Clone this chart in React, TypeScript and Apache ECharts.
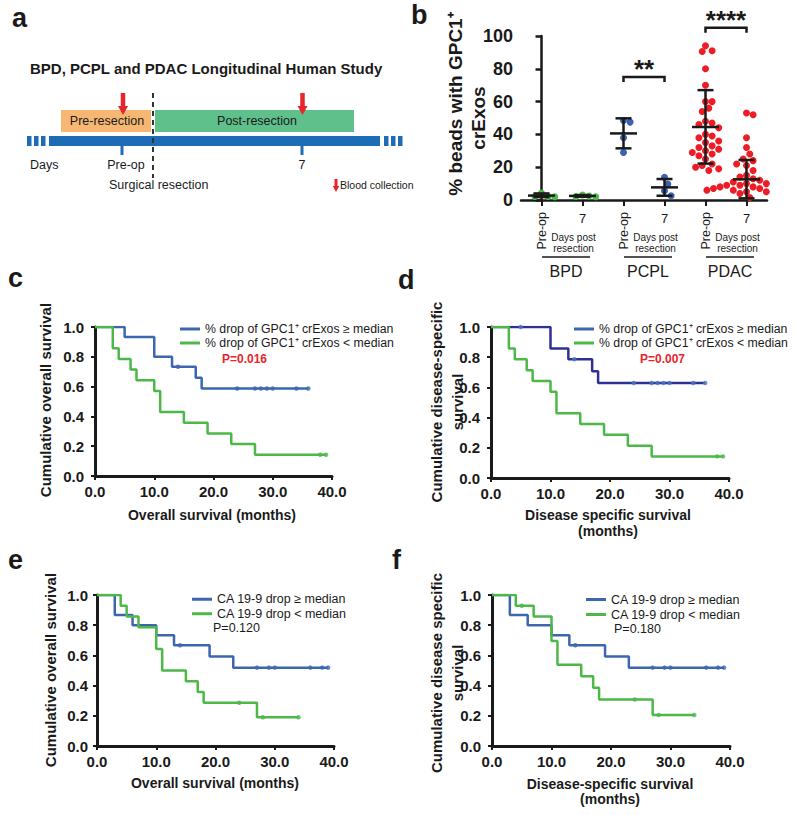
import React, { useEffect, useRef } from 'react';
import * as echarts from 'echarts';

const FONT = '"Liberation Sans", Arial, Helvetica, sans-serif';
const INK = '#1a1a1a';
const BLUE = '#3d66b0';
const NAVY = '#2e3192';
const GREEN = '#4cb848';
const RED = '#e8252b';

// ---------- Panel a ----------
const aTitle = 'BPD, PCPL and PDAC Longitudinal Human Study';
const aPhases = ['Pre-resection', 'Post-resection'];
const aTimeLabels = ['Days', 'Pre-op', '7'];
const aNotes = ['Surgical resection', 'Blood collection'];

// ---------- Panel b ----------
const bTickPre = ['Pre-op', '', 'Pre-op', '', 'Pre-op', ''];
const bTickPost = ['', '7', '', '7', '', '7'];
const bGroups = ['BPD', 'PCPL', 'PDAC'];
const bSubLabel = ['Days post', 'resection'];
const bYTitle = ['% beads with GPC1\u207A', 'crExos'];
const bpdPre = [2.0, 2.1, 2.2, 4.3];
const bpdPost = [2.0, 2.1, 2.4, 3.1];
const pcplPre = [48.5, 47.5, 38, 29];
const pcplPost = [13.8, 9.8, 5.7, 2.6];
const pdacPre = [94, 91, 90.5, 80, 70, 60, 60, 56, 54, 48, 47, 46, 44, 40, 39, 38, 36, 35, 33, 32, 31, 30, 29, 28, 27, 25, 22, 21, 20, 19, 18];
const pdacPost = [53, 52, 38, 32, 28, 25, 24, 22, 21, 18, 15, 14, 13, 12, 11, 10, 10, 9, 9, 8, 8, 8, 7, 7, 7, 6, 6, 6, 5, 5, 4, 1.5];
const bMeans = [2.7, 2.5, 40.6, 7.7, 44.5, 12.6];
const bLower = [1.8, 2.0, 31.5, 2.6, 22.2, 1.0];
const bUpper = [4.0, 3.0, 49.8, 12.8, 67.0, 24.4];
const sigFrom = [2, 4];
const sigTo = [3, 5];
const sigLevel = [75, 105];
const sigLabels = ['**', '****'];

// ---------- Panels c-f ----------
const GPC_HI = '% drop of GPC1\u207A crExos \u2265 median';
const GPC_LO = '% drop of GPC1\u207A crExos < median';
const CA_HI = 'CA 19-9 drop \u2265 median';
const CA_LO = 'CA 19-9 drop < median';
const pValues = ['P=0.016', 'P=0.007', 'P=0.120', 'P=0.180'];

const cBlueT = [0, 5, 10, 13, 17, 18, 36];
const cBlueS = [1, 0.933, 0.8, 0.733, 0.66, 0.587, 0.587];
const cBlueCens = [14, 24, 27, 28, 29, 30, 34, 36];
const cGreenT = [0, 3, 4, 6, 7, 10, 11, 15, 19, 23, 27, 39];
const cGreenS = [1, 0.857, 0.786, 0.714, 0.643, 0.571, 0.429, 0.357, 0.286, 0.214, 0.143, 0.143];
const cGreenCens = [38, 39];

const dBlueT = [0, 10, 13, 17, 18, 36];
const dBlueS = [1, 0.857, 0.786, 0.707, 0.629, 0.629];
const dBlueCens = [5, 14, 24, 27, 28, 29, 30, 34, 36];
const dGreenT = [0, 3, 4, 6, 7, 10, 11, 15, 19, 23, 27, 39];
const dGreenS = [1, 0.857, 0.786, 0.714, 0.643, 0.571, 0.429, 0.357, 0.286, 0.214, 0.143, 0.143];
const dGreenCens = [38, 39];

const eBlueT = [0, 3, 6, 10, 13, 19, 23, 39];
const eBlueS = [1, 0.867, 0.8, 0.733, 0.667, 0.593, 0.519, 0.519];
const eBlueCens = [14, 27, 29, 30, 36, 38, 39];
const eGreenT = [0, 4, 5, 7, 10, 11, 15, 17, 18, 27, 34];
const eGreenS = [1, 0.929, 0.857, 0.786, 0.643, 0.5, 0.429, 0.357, 0.286, 0.19, 0.19];
const eGreenCens = [24, 28, 34];

const fBlueT = [0, 3, 6, 10, 13, 19, 23, 39];
const fBlueS = [1, 0.867, 0.8, 0.733, 0.667, 0.593, 0.519, 0.519];
const fBlueCens = [14, 27, 29, 30, 36, 38, 39];
const fGreenT = [0, 4, 7, 10, 11, 15, 17, 18, 27, 34];
const fGreenS = [1, 0.929, 0.857, 0.696, 0.538, 0.462, 0.385, 0.308, 0.205, 0.205];
const fGreenCens = [5, 24, 28, 34];

// ---------- layout ----------
const GB = { left: 521, top: 36, width: 246, height: 164 };
const GC = { left: 95, top: 327, width: 237, height: 149 };
const GD = { left: 491, top: 327, width: 238, height: 151 };
const GE = { left: 97, top: 595, width: 237, height: 151 };
const GF = { left: 492, top: 595, width: 238, height: 151 };

const beeswarm = (vals: number[], idx: number) => {
  const pxX = GB.width / 6;
  const pxY = GB.height / 100;
  const d = 6.6;
  const step = 3.3;
  const placed: { x: number; y: number }[] = [];
  const sorted = [...vals].sort((a, b) => b - a);
  return sorted.map((v) => {
    const y = v * pxY;
    let off = 0;
    for (let k = 0; k < 60; k++) {
      const cand = k === 0 ? 0 : (k % 2 ? 1 : -1) * Math.ceil(k / 2) * step;
      if (placed.every((p) => Math.hypot(p.x - cand, p.y - y) >= d)) {
        off = cand;
        break;
      }
    }
    placed.push({ x: off, y });
    return [idx + off / pxX, v];
  });
};

const stepData = (t: number[], s: number[]) => t.map((x, i) => [x, s[i]]);
const censData = (c: number[], t: number[], s: number[]) =>
  c.map((x) => {
    let k = 0;
    for (let i = 0; i < t.length; i++) if (t[i] <= x) k = i;
    return [x, s[k]];
  });

const kmAxisX = (gridIndex: number) => ({
  type: 'value',
  gridIndex,
  min: 0,
  max: 40,
  interval: 10,
  position: 'bottom',
  axisLine: { show: true, onZero: false, lineStyle: { color: INK, width: 3 } },
  axisTick: { show: true, length: 4, lineStyle: { color: INK, width: 2 } },
  axisLabel: { formatter: (v: number) => v.toFixed(1), fontSize: 15, fontWeight: 'bold', color: INK, fontFamily: FONT, margin: 8 },
  splitLine: { show: false },
});
const kmAxisY = (gridIndex: number, margin: number) => ({
  type: 'value',
  gridIndex,
  min: 0,
  max: 1,
  interval: 0.2,
  axisLine: { show: true, lineStyle: { color: INK, width: 3 } },
  axisTick: { show: true, length: 4, lineStyle: { color: INK, width: 2 } },
  axisLabel: { formatter: (v: number) => v.toFixed(1), fontSize: 15, fontWeight: 'bold', color: INK, fontFamily: FONT, margin },
  splitLine: { show: false },
});

const kmSeries = (
  axis: number,
  name: string,
  t: number[],
  s: number[],
  cens: number[],
  lineColor: string,
  dotColor: string,
  z: number
) => [
  {
    type: 'line',
    name,
    xAxisIndex: axis + 3,
    yAxisIndex: axis + 1,
    step: 'end',
    symbol: 'none',
    data: stepData(t, s),
    lineStyle: { color: lineColor, width: 2.5 },
    itemStyle: { color: dotColor },
    z,
  },
  {
    type: 'scatter',
    name: name + ' censored',
    xAxisIndex: axis + 3,
    yAxisIndex: axis + 1,
    symbol: 'circle',
    symbolSize: 4.5,
    data: censData(cens, t, s),
    itemStyle: { color: dotColor },
    z: z + 1,
  },
];

const kmLegend = (left: number, top: number, hi: string, lo: string, fontSize: number, lh: number) => ({
  left,
  top,
  orient: 'vertical',
  icon: 'rect',
  itemWidth: 20,
  itemHeight: 3,
  itemGap: 0,
  selectedMode: false,
  padding: 0,
  data: [
    { name: hi, itemStyle: { color: BLUE } },
    { name: lo, itemStyle: { color: GREEN } },
  ],
  textStyle: { fontSize, color: INK, fontFamily: FONT, lineHeight: lh },
});

const txt = (text: string, x: number, y: number, size: number, opts: any = {}) => ({
  type: 'text',
  x,
  y,
  rotation: opts.rotation || 0,
  silent: true,
  style: {
    text,
    x: 0,
    y: 0,
    fontSize: size,
    fontWeight: opts.bold ? 'bold' : 'normal',
    fontFamily: FONT,
    fill: opts.fill || INK,
    align: opts.align || 'center',
    verticalAlign: opts.va || 'middle',
  },
});

const arrow = (cx: number, top: number, shaftW: number, headW: number, shaftEnd: number, tip: number) => ({
  type: 'polygon',
  silent: true,
  shape: {
    points: [
      [cx - shaftW / 2, top],
      [cx + shaftW / 2, top],
      [cx + shaftW / 2, shaftEnd],
      [cx + headW / 2, shaftEnd],
      [cx, tip],
      [cx - headW / 2, shaftEnd],
      [cx - shaftW / 2, shaftEnd],
    ],
  },
  style: { fill: RED },
});

export default function App() {
  const ref = useRef<HTMLDivElement>(null);
  useEffect(() => {
    if (!ref.current) return;
    const chart = echarts.init(ref.current, undefined, { renderer: 'svg' });
    const xc = (i: number) => GB.left + (i + 0.5) * (GB.width / 6);
    const bSets = [bpdPre, bpdPost, pcplPre, pcplPost, pdacPre, pdacPost];
    const bColors = ['#4dbb4a', '#4dbb4a', '#3a62b0', '#3a62b0', '#ee1c25', '#ee1c25'];

    const graphic: any[] = [];
    const panelLabels: [string, number, number][] = [
      ['a', 12, 31], ['b', 411, 28], ['c', 8, 291], ['d', 398, 293], ['e', 8, 573], ['f', 392, 573],
    ];
    panelLabels.forEach(([t, x, y]) => graphic.push(txt(t, x, y, 27, { bold: true, align: 'left', va: 'bottom' })));

    // panel a
    graphic.push(txt(aTitle, 30, 68, 15, { bold: true, align: 'left' }));
    graphic.push({ type: 'rect', silent: true, shape: { x: 61, y: 110, width: 90, height: 22 }, style: { fill: '#f6b772' } });
    graphic.push({ type: 'rect', silent: true, shape: { x: 155, y: 110, width: 199, height: 22 }, style: { fill: '#5fc08c' } });
    graphic.push({ type: 'rect', silent: true, shape: { x: 49, y: 136, width: 331, height: 10 }, style: { fill: '#1f6cb6' } });
    [27, 34, 41, 384, 391, 398].forEach((x) =>
      graphic.push({ type: 'rect', silent: true, shape: { x, y: 136, width: 4.5, height: 10 }, style: { fill: '#1f6cb6' } })
    );
    [122, 302].forEach((x) =>
      graphic.push({ type: 'rect', silent: true, shape: { x: x - 1.5, y: 146, width: 3, height: 9 }, style: { fill: '#1f6cb6' } })
    );
    graphic.push({
      type: 'line', silent: true, shape: { x1: 153, y1: 93, x2: 153, y2: 178 },
      style: { stroke: '#333', lineWidth: 2, lineDash: [5, 4] },
    });
    graphic.push(arrow(123, 93, 4.5, 10, 106, 115));
    graphic.push(arrow(302.5, 93, 4.5, 10, 106, 115));
    graphic.push(arrow(336, 179, 3, 6.5, 186, 192));
    graphic.push(txt(aPhases[0], 107, 121, 12.5));
    graphic.push(txt(aPhases[1], 257, 121, 12.5));
    graphic.push(txt(aTimeLabels[0], 30, 165, 12.5, { align: 'left' }));
    graphic.push(txt(aTimeLabels[1], 126, 165, 12.5));
    graphic.push(txt(aTimeLabels[2], 302, 165, 12.5));
    graphic.push(txt(aNotes[0], 109, 185, 12.5, { align: 'left' }));
    graphic.push(txt(aNotes[1], 340, 185, 10.5, { align: 'left' }));

    // panel b annotations
    graphic.push(txt(bYTitle[0], 455, 104, 19, { bold: true, rotation: Math.PI / 2 }));
    graphic.push(txt(bYTitle[1], 478, 118, 19, { bold: true, rotation: Math.PI / 2 }));
    bGroups.forEach((g, k) => {
      const pre = xc(2 * k);
      const post = xc(2 * k + 1);
      graphic.push(txt(bSubLabel[0], post - 9, 237, 10));
      graphic.push(txt(bSubLabel[1], post - 9, 248, 10));
      const mid = (pre + post) / 2 + 4;
      graphic.push({
        type: 'line', silent: true, shape: { x1: mid - 24, y1: 257, x2: mid + 24, y2: 257 },
        style: { stroke: INK, lineWidth: 1.5 },
      });
      graphic.push(txt(g, mid, 271, 16));
    });

    // P values
    graphic.push(txt(pValues[0], 222, 359, 12, { bold: true, fill: RED, align: 'left' }));
    graphic.push(txt(pValues[1], 640, 359, 12, { bold: true, fill: RED, align: 'left' }));
    graphic.push(txt(pValues[2], 213, 628, 12.5, { align: 'left' }));
    graphic.push(txt(pValues[3], 614, 629, 12.5, { align: 'left' }));

    // KM axis titles
    graphic.push(txt('Cumulative overall survival', 45, 400, 15, { bold: true, rotation: Math.PI / 2 }));
    graphic.push(txt('Overall survival (months)', 212, 515, 14, { bold: true }));
    graphic.push(txt('Cumulative disease-specific', 436, 402, 15, { bold: true, rotation: Math.PI / 2 }));
    graphic.push(txt('survival', 457, 402, 15, { bold: true, rotation: Math.PI / 2 }));
    graphic.push(txt('Disease specific survival', 608, 515, 14, { bold: true }));
    graphic.push(txt('(months)', 608, 531, 14, { bold: true }));
    graphic.push(txt('Cumulative overall survival', 50, 670, 15, { bold: true, rotation: Math.PI / 2 }));
    graphic.push(txt('Overall survival (months)', 215, 783, 14, { bold: true }));
    graphic.push(txt('Cumulative disease specific', 436, 673, 15, { bold: true, rotation: Math.PI / 2 }));
    graphic.push(txt('survival', 457, 673, 15, { bold: true, rotation: Math.PI / 2 }));
    graphic.push(txt('Disease-specific survival', 610, 784, 14, { bold: true }));
    graphic.push(txt('(months)', 610, 799, 14, { bold: true }));

    const series: any[] = [];
    bSets.forEach((vals, i) => {
      series.push({
        type: 'scatter',
        xAxisIndex: 2,
        yAxisIndex: 0,
        symbolSize: 7,
        data: beeswarm(vals, i),
        itemStyle: { color: bColors[i], opacity: 1 },
        z: 2,
      });
    });
    series.push({
      type: 'custom',
      xAxisIndex: 2,
      yAxisIndex: 0,
      z: 5,
      clip: false,
      encode: { x: 0, y: 1 },
      data: bMeans.map((m, i) => [i, m, bLower[i], bUpper[i]]),
      renderItem: (params: any, api: any) => {
        const x = api.value(0);
        const pm = api.coord([x, api.value(1)]);
        const pl = api.coord([x, api.value(2)]);
        const ph = api.coord([x, api.value(3)]);
        const st = { stroke: INK, lineWidth: 2.5 };
        return {
          type: 'group',
          children: [
            { type: 'line', shape: { x1: pm[0] - 13.5, y1: pm[1], x2: pm[0] + 13.5, y2: pm[1] }, style: st },
            { type: 'line', shape: { x1: pl[0], y1: pl[1], x2: ph[0], y2: ph[1] }, style: st },
            { type: 'line', shape: { x1: pl[0] - 8, y1: pl[1], x2: pl[0] + 8, y2: pl[1] }, style: st },
            { type: 'line', shape: { x1: ph[0] - 8, y1: ph[1], x2: ph[0] + 8, y2: ph[1] }, style: st },
          ],
        };
      },
    });
    series.push({
      type: 'custom',
      xAxisIndex: 2,
      yAxisIndex: 0,
      z: 5,
      clip: false,
      encode: { x: 0, y: 2 },
      data: sigFrom.map((f, i) => [f, sigTo[i], sigLevel[i], i]),
      renderItem: (params: any, api: any) => {
        const p1 = api.coord([api.value(0), api.value(2)]);
        const p2 = api.coord([api.value(1), api.value(2)]);
        const label = sigLabels[api.value(3)];
        return {
          type: 'group',
          children: [
            {
              type: 'polyline',
              shape: { points: [[p1[0], p1[1] + 5], [p1[0], p1[1]], [p2[0], p2[1]], [p2[0], p2[1] + 5]] },
              style: { stroke: INK, lineWidth: 2.5, fill: 'none' },
            },
            {
              type: 'text',
              x: (p1[0] + p2[0]) / 2,
              y: p1[1] - 8,
              style: { text: label, fontSize: 26, fontWeight: 'bold', fontFamily: FONT, fill: INK, align: 'center', verticalAlign: 'middle' },
            },
          ],
        };
      },
    });

    series.push(...kmSeries(0, GPC_HI, cBlueT, cBlueS, cBlueCens, BLUE, BLUE, 3));
    series.push(...kmSeries(0, GPC_LO, cGreenT, cGreenS, cGreenCens, GREEN, GREEN, 5));
    series.push(...kmSeries(1, GPC_HI, dBlueT, dBlueS, dBlueCens, NAVY, '#4a78c0', 3));
    series.push(...kmSeries(1, GPC_LO, dGreenT, dGreenS, dGreenCens, GREEN, GREEN, 5));
    series.push(...kmSeries(2, CA_HI, eBlueT, eBlueS, eBlueCens, BLUE, BLUE, 3));
    series.push(...kmSeries(2, CA_LO, eGreenT, eGreenS, eGreenCens, GREEN, GREEN, 5));
    series.push(...kmSeries(3, CA_HI, fBlueT, fBlueS, fBlueCens, BLUE, BLUE, 3));
    series.push(...kmSeries(3, CA_LO, fGreenT, fGreenS, fGreenCens, GREEN, GREEN, 5));

    const option: any = {
      animation: false,
      backgroundColor: '#ffffff',
      textStyle: { fontFamily: FONT },
      grid: [GB, GC, GD, GE, GF].map((g) => ({ ...g, containLabel: false })),
      xAxis: [
        {
          type: 'category',
          gridIndex: 0,
          position: 'bottom',
          data: bTickPre,
          axisLine: { show: true, lineStyle: { color: INK, width: 2.5 } },
          axisTick: { show: true, alignWithLabel: true, length: 6, lineStyle: { color: INK, width: 2 } },
          axisLabel: { rotate: 90, fontSize: 12.5, color: INK, fontFamily: FONT, margin: 12, interval: 0 },
        },
        {
          type: 'category',
          gridIndex: 0,
          position: 'bottom',
          data: bTickPost,
          axisLine: { show: false },
          axisTick: { show: false },
          axisLabel: { fontSize: 13, color: INK, fontFamily: FONT, margin: 12, interval: 0 },
        },
        { type: 'value', gridIndex: 0, position: 'bottom', min: -0.5, max: 5.5, show: false },
        kmAxisX(1),
        kmAxisX(2),
        kmAxisX(3),
        kmAxisX(4),
      ],
      yAxis: [
        {
          type: 'value',
          gridIndex: 0,
          min: 0,
          max: 100,
          interval: 20,
          axisLine: { show: true, lineStyle: { color: INK, width: 2.5 } },
          axisTick: { show: true, length: 6, lineStyle: { color: INK, width: 2.5 } },
          axisLabel: { fontSize: 18, fontWeight: 'bold', color: INK, fontFamily: FONT, margin: 8 },
          splitLine: { show: false },
        },
        kmAxisY(1, 11),
        kmAxisY(2, 11),
        kmAxisY(3, 9),
        kmAxisY(4, 11),
      ],
      legend: [
        kmLegend(180, 322, GPC_HI, GPC_LO, 12.3, 14),
        kmLegend(574, 322, GPC_HI, GPC_LO, 12.3, 14),
        kmLegend(192, 592, CA_HI, CA_LO, 12.5, 14.5),
        kmLegend(586, 592, CA_HI, CA_LO, 12.5, 15),
      ],
      graphic,
      series,
    };
    chart.setOption(option);
    return () => chart.dispose();
  }, []);

  return (
    <div
      ref={ref}
      style={{ position: 'absolute', left: 0, top: 0, width: 795, height: 815, background: '#fff' }}
    />
  );
}
